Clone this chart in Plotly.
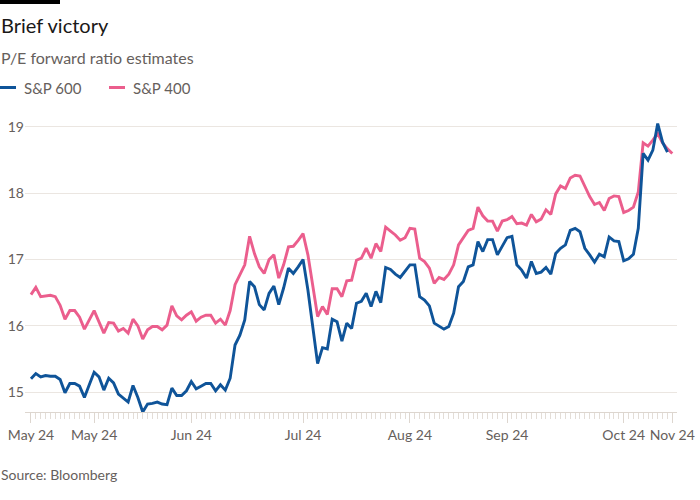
import plotly.graph_objects as go

# ---- data ----
sp600 = [
    15.20, 15.28, 15.23, 15.25, 15.24, 15.24, 15.19, 14.99, 15.13, 15.13, 15.09, 14.92, 15.11, 15.30, 15.23,
    15.03, 15.21, 15.14, 14.97, 14.91, 14.85, 15.10, 14.92, 14.70, 14.82, 14.83, 14.85, 14.82, 14.81, 15.06,
    14.95, 14.95, 15.02, 15.16, 15.05,
    15.09, 15.13, 15.13, 15.02, 15.11, 15.03, 15.21, 15.71, 15.86, 16.09, 16.67, 16.59, 16.32, 16.24, 16.49,
    16.60, 16.32, 16.57, 16.87, 16.79, 16.89, 17.00, 16.54, 15.99, 15.43, 15.67, 15.65, 16.10, 16.06, 15.77,
    16.04, 15.96,
    16.34, 16.37, 16.49, 16.29, 16.52, 16.35, 16.88, 16.85, 16.78, 16.73, 16.82, 16.92, 16.92, 16.44, 16.39,
    16.30, 16.04, 16.00, 15.95, 15.99, 16.19, 16.59, 16.67, 16.89, 16.92, 17.27, 17.12, 17.30, 17.30, 17.07,
    17.19, 17.33, 17.35,
    16.92, 16.84, 16.72, 16.97, 16.79, 16.81, 16.88, 16.78, 17.09, 17.17, 17.22, 17.44, 17.47, 17.42, 17.17,
    17.07, 16.96, 17.08, 17.04, 17.34, 17.28, 17.27, 16.98, 17.01, 17.08, 17.47, 18.60, 18.50, 18.65, 19.05,
    18.77, 18.62,
]

sp400 = [
    16.47, 16.58, 16.44, 16.45, 16.46, 16.44, 16.31, 16.10, 16.23, 16.23, 16.13, 15.95, 16.09, 16.23, 16.06,
    15.89, 16.05, 16.04, 15.92, 15.96, 15.89, 16.10, 16.00, 15.80, 15.94, 15.99, 15.99, 15.94, 16.01, 16.30,
    16.15, 16.09, 16.16, 16.21, 16.07,
    16.13, 16.16, 16.16, 16.04, 16.10, 16.01, 16.23, 16.62, 16.77, 16.92, 17.35, 17.09, 16.89, 16.79, 17.00,
    17.07, 16.72, 16.92, 17.19, 17.20, 17.29, 17.39, 17.07, 16.59, 16.14, 16.29, 16.17, 16.56, 16.56, 16.44,
    16.68, 16.69,
    16.99, 17.02, 17.17, 17.02, 17.24, 17.12, 17.49, 17.43, 17.37, 17.29, 17.33, 17.47, 17.46, 17.02, 16.97,
    16.87, 16.64, 16.73, 16.70, 16.78, 16.92, 17.22, 17.34, 17.44, 17.47, 17.79, 17.66, 17.58, 17.58, 17.43,
    17.58, 17.60, 17.65,
    17.54, 17.55, 17.52, 17.68, 17.57, 17.61, 17.75, 17.68, 17.99, 18.11, 18.07, 18.23, 18.27, 18.26, 18.10,
    17.95, 17.83, 17.86, 17.74, 17.92, 17.96, 17.95, 17.71, 17.74, 17.79, 18.02, 18.76, 18.71, 18.80, 18.90,
    18.76, 18.67, 18.60,
]

tick_index = [0, 13, 33, 56, 78, 98, 122, 132]
tick_labels = ["May 24", "May 24", "Jun 24", "Jul 24", "Aug 24", "Sep 24", "Oct 24", "Nov 24"]
y_ticks = [15, 16, 17, 18, 19]

series_names = ["S&P 600", "S&P 400"]
BLUE = "#0f5499"
PINK = "#eb5e8d"
GREY = "#66605c"
FONT = "Lato"

# ---- figure ----
W, H = 700, 500
ML, MR, MT, MB = 25, 23, 117, 88
PW, PH = W - ML - MR, H - MT - MB

def px_x(p):
    return (p - ML) / PW

def px_y(p):
    return (H - MB - p) / PH

fig = go.Figure()
fig.add_trace(go.Scatter(x=list(range(len(sp400))), y=sp400, mode="lines", name=series_names[1],
                         line=dict(color=PINK, width=2.9), showlegend=False, hoverinfo="skip"))
fig.add_trace(go.Scatter(x=list(range(len(sp600))), y=sp600, mode="lines", name=series_names[0],
                         line=dict(color=BLUE, width=2.9), showlegend=False, hoverinfo="skip"))

n = len(sp400)
fig.update_layout(
    width=W, height=H,
    margin=dict(l=ML, r=MR, t=MT, b=MB, pad=0, autoexpand=False),
    paper_bgcolor="white", plot_bgcolor="white",
    font=dict(family=FONT, color=GREY, size=14),
    xaxis=dict(
        automargin=False,
        range=[-1.23, n - 1 + 0.97],
        tickmode="array", tickvals=tick_index, ticktext=tick_labels,
        ticks="outside", ticklen=10, tickwidth=1, tickcolor="#ddd6cf",
        showgrid=False, zeroline=False,
        showline=True, linecolor="#ddd6cf", linewidth=1,
        tickfont=dict(size=14, color=GREY, family=FONT),
        minor=dict(tickmode="array", tickvals=list(range(n)), ticks="outside",
                   ticklen=6, tickwidth=1, tickcolor="#e3ddd7", showgrid=False),
    ),
    yaxis=dict(
        automargin=False,
        range=[14.70, 19.15],
        tickmode="array", tickvals=y_ticks,
        showgrid=True, gridcolor="#ebe6e1", gridwidth=1,
        zeroline=False, showline=False, ticks="",
        tickfont=dict(size=14, color=GREY, family=FONT),
    ),
    showlegend=False,
)

# black top bar
fig.add_shape(type="rect", xref="paper", yref="paper",
              x0=px_x(0), x1=px_x(60), y0=px_y(4), y1=px_y(0),
              fillcolor="black", line=dict(width=0))

annos = [
    dict(text="Brief victory", x=px_x(-1), y=px_y(25), size=20, color="#1a1817", weight=400),
    dict(text="P/E forward ratio estimates", x=px_x(-1), y=px_y(57), size=16, color=GREY, weight=400),
    dict(text=series_names[0], x=px_x(22), y=px_y(88), size=15, color=GREY, weight=400),
    dict(text=series_names[1], x=px_x(131), y=px_y(88), size=15, color=GREY, weight=400),
    dict(text="Source: Bloomberg", x=px_x(-1), y=px_y(474), size=14, color=GREY, weight=400),
]
for a in annos:
    fig.add_annotation(text=a["text"], x=a["x"], y=a["y"], xref="paper", yref="paper",
                       xanchor="left", yanchor="middle", showarrow=False,
                       font=dict(size=a["size"], color=a["color"], family=FONT, weight=a["weight"]))

# legend swatches
for x0, x1, col in [(0, 16, BLUE), (109, 125, PINK)]:
    fig.add_shape(type="line", xref="paper", yref="paper",
                  x0=px_x(x0), x1=px_x(x1), y0=px_y(87.5), y1=px_y(87.5),
                  line=dict(color=col, width=3))

fig.write_html("out.html", config={"displayModeBar": False},
               post_script="document.body.style.margin='0';")
